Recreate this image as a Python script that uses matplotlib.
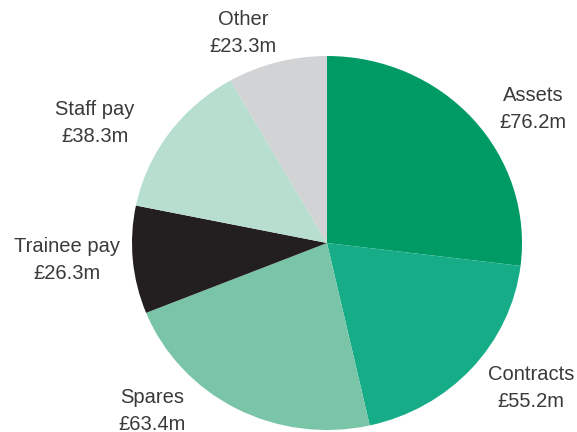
import matplotlib
matplotlib.use('Agg')
import matplotlib.pyplot as plt

# Spending breakdown (£m)
categories = ['Assets', 'Contracts', 'Spares', 'Trainee pay', 'Staff pay', 'Other']
values = [76.2, 55.2, 63.4, 26.3, 38.3, 23.3]
colors = ['#009b65', '#16ac88', '#7ac4a8', '#231f20', '#b8ded0', '#d1d3d4']

# label centres in pixels (x, y from top)
label_pos = [(533, 109), (531, 388), (152, 411), (67, 260), (95, 123), (243, 33)]

W, H = 577, 432
cx, cy, rx, ry = 327, 243, 195, 187

fig = plt.figure(figsize=(W / 100, H / 100), dpi=100)
ax = fig.add_axes([(cx - rx) / W, (H - cy - ry) / H, 2 * rx / W, 2 * ry / H])
ax.pie(values, colors=colors, startangle=90, counterclock=False,
       wedgeprops=dict(linewidth=0))
ax.set_aspect('auto')
ax.set_xlim(-1, 1)
ax.set_ylim(-1, 1)
ax.axis('off')

for cat, val, (x, y) in zip(categories, values, label_pos):
    fig.text(x / W, 1 - y / H, f'{cat}\n£{val}m', ha='center', va='center',
             fontsize=14.5, color='#3a3a3a', family='Liberation Sans',
             linespacing=1.5)

fig.savefig('out.png', dpi=100)
